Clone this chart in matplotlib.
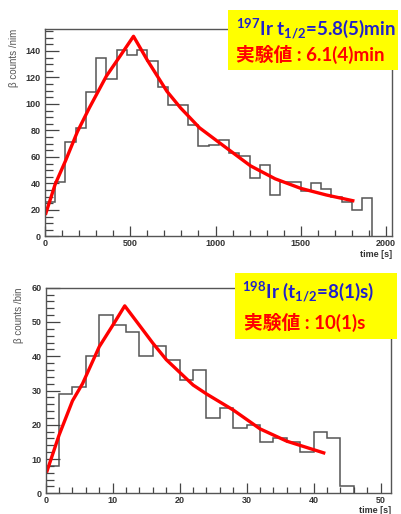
import numpy as np
import matplotlib
matplotlib.use("Agg")
import matplotlib.pyplot as plt
from matplotlib.patches import Rectangle
from matplotlib.ticker import MultipleLocator

plt.rcParams['font.family'] = ['Liberation Sans', 'DejaVu Sans']
plt.rcParams['mathtext.fontset'] = 'custom'
plt.rcParams['mathtext.rm'] = 'Lato:bold'
plt.rcParams['mathtext.it'] = 'Lato:bold'
plt.rcParams['mathtext.bf'] = 'Lato:bold'

# 197Ir panel: 60 s bins
ir197_bin = 60
ir197_counts = [26, 41, 71, 82, 109, 135, 119, 141, 137, 141, 132, 113, 99, 99, 84, 68,
                69, 73, 63, 61, 44, 54, 31, 41, 41, 34, 40, 36, 30, 26, 20, 29]
ir197_fit_t = [5, 60, 120, 190, 260, 360, 440, 519, 600, 715, 795, 906, 1020,
               1205, 1350, 1500, 1650, 1805]
ir197_fit_v = [17.5, 39.5, 57, 79, 97, 121, 136, 151, 133, 109.5, 97, 82, 71,
               53.3, 43.5, 36.3, 31.3, 27]

# 198Ir panel: 2 s bins
ir198_bin = 2
ir198_counts = [8, 29, 31, 40, 52, 49, 47, 40, 43, 39, 33, 36, 22, 25, 19, 20,
                15, 16, 15, 12, 18, 16, 2]
ir198_fit_t = [0.2, 2, 4, 5.5, 8, 10, 11.8, 14, 16, 18, 22, 24, 28, 32, 36, 41.5]
ir198_fit_v = [6.5, 17, 27, 32, 42.8, 49, 54.7, 49, 43.8, 39, 31.6, 29, 24.3,
               18.8, 15.2, 11.8]

box1_lines = ["$^{197}$Ir t$_{1/2}$=5.8(5)min", "実験値 : 6.1(4)min"]
box2_lines = ["$^{198}$Ir (t$_{1/2}$=8(1)s)", "実験値 : 10(1)s"]

W, H = 402, 514
fig = plt.figure(figsize=(W / 100, H / 100), dpi=100)

gray = '#444444'


def panel(rect, counts, width, fit_t, fit_v, xlim, ylim, xmaj, xmin, ymaj, ymin, ylabel):
    ax = fig.add_axes(rect)
    edges = np.arange(len(counts) + 1) * width
    ax.stairs(counts, edges, baseline=0, color='#555555', lw=1.1)
    ax.plot(fit_t, fit_v, color='#ff0000', lw=2.4, solid_joinstyle='round')
    ax.set_xlim(*xlim)
    ax.set_ylim(*ylim)
    ax.xaxis.set_major_locator(MultipleLocator(xmaj))
    ax.xaxis.set_minor_locator(MultipleLocator(xmin))
    ax.yaxis.set_major_locator(MultipleLocator(ymaj))
    ax.yaxis.set_minor_locator(MultipleLocator(ymin))
    ax.tick_params(which='both', direction='in', color=gray, labelcolor='#333333',
                   labelsize=6.5, width=0.9)
    ax.tick_params(axis='y', which='major', length=10, pad=3)
    ax.tick_params(axis='y', which='minor', length=6)
    ax.tick_params(axis='x', which='major', length=7, pad=2)
    ax.tick_params(axis='x', which='minor', length=4)
    for lab in ax.get_xticklabels() + ax.get_yticklabels():
        lab.set_fontweight('bold')
    for s in ax.spines.values():
        s.set_color('#555555')
        s.set_linewidth(1.0)
    ax.set_ylabel(ylabel, fontsize=7, color='#555555', loc='top', labelpad=5)
    ax.set_xlabel('time [s]', fontsize=6.5, fontweight='bold', color='#333333',
                  loc='right', labelpad=1)
    return ax


panel([45 / W, 1 - 236.5 / H, 347 / W, 207.5 / H], ir197_counts, ir197_bin,
      ir197_fit_t, ir197_fit_v, (0, 2035), (0, 156.5), 500, 100, 20, 5,
      'β counts /nim')
panel([45.7 / W, 1 - 493.3 / H, 345 / W, 205.6 / H], ir198_counts, ir198_bin,
      ir198_fit_t, ir198_fit_v, (0, 51.5), (0, 60), 10, 2, 10, 2,
      'β counts /bin')


def label_box(x0, y0, x1, y1, lines, positions):
    fig.patches.append(Rectangle((x0 / W, 1 - y1 / H), (x1 - x0) / W, (y1 - y0) / H,
                                 transform=fig.transFigure, facecolor='#ffff00',
                                 edgecolor='none', zorder=5))
    colors = ['#2020cc', '#ff0000']
    for text, (x, y), c in zip(lines, positions, colors):
        fig.text(x / W, 1 - y / H, text, color=c, fontsize=13.5, fontweight='bold',
                 family=['Lato', 'Noto Sans CJK JP'], va='center', ha='left', zorder=6)


label_box(228, 10, 398, 70, box1_lines, [(236, 29), (236, 54)])
label_box(235, 273, 397, 339, box2_lines, [(242, 292), (244, 322)])

fig.savefig('out.png', dpi=100)
